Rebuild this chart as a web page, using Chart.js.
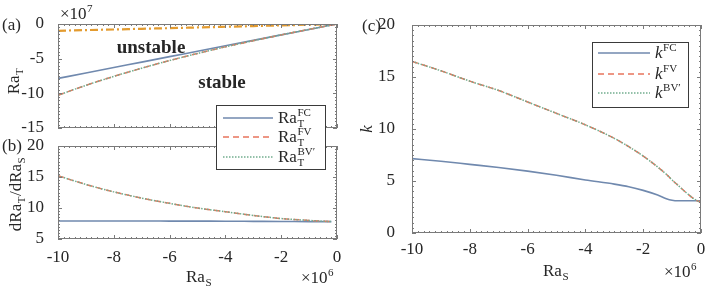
<!DOCTYPE html>
<html>
<head>
<meta charset="utf-8">
<script src="https://cdn.jsdelivr.net/npm/chart.js@4.4.1/dist/chart.umd.min.js"></script>
<style>
  html, body { margin: 0; padding: 0; background: #fff; }
  #fig { position: relative; width: 708px; height: 289px; background: #fff; }
  #fig canvas { position: absolute; left: 0; top: 0; }
</style>
</head>
<body>
<div id="fig">
  <canvas id="pa" width="708" height="289"></canvas>
  <canvas id="pb" width="708" height="289"></canvas>
  <canvas id="pc" width="708" height="289"></canvas>
</div>
<script>
// ---- данные (читаются с картинки) ----
// (a) Ra_T, x10^7, по Ra_S x10^6
const rasA     = [-10, -9, -8, -7, -6, -5, -4, -3, -2, -1, 0];
const raTFC    = [-7.85, -7.07, -6.28, -5.5, -4.71, -3.93, -3.14, -2.36, -1.57, -0.79, 0];
const raTFV    = [-10.27, -8.85, -7.56, -6.37, -5.27, -4.25, -3.3, -2.41, -1.57, -0.77, 0];
const raTBV    = [-10.27, -8.85, -7.56, -6.37, -5.27, -4.25, -3.3, -2.41, -1.57, -0.77, 0];
const raTOther = [-0.98, -0.88, -0.79, -0.69, -0.6, -0.5, -0.4, -0.3, -0.2, -0.1, 0];

// (b) dRa_T/dRa_S
const rasB = [-10, -9, -8, -7, -6, -5, -4, -3, -2, -1, -0.2];
const dFC  = [7.9, 7.9, 7.9, 7.9, 7.89, 7.88, 7.87, 7.85, 7.83, 7.81, 7.8];
const dFV  = [15.2, 13.8, 12.6, 11.6, 10.75, 10.0, 9.4, 8.8, 8.3, 8.0, 7.8];
const dBV  = [15.2, 13.8, 12.6, 11.6, 10.75, 10.0, 9.4, 8.8, 8.3, 8.0, 7.8];

// (c) k
const rasC = [-10, -9, -8, -7, -6, -5, -4, -3, -2.5, -2, -1.5, -1.2, -1, -0.8, -0.5, -0.2, 0];
const kFC  = [7.15, 6.9, 6.6, 6.3, 5.95, 5.55, 5.1, 4.7, 4.45, 4.1, 3.65, 3.3, 3.15, 3.1, 3.1, 3.1, 3.1];
const kFV  = [16.5, 15.6, 14.6, 13.7, 12.6, 11.5, 10.4, 9.1, 8.3, 7.4, 6.35, 5.65, 5.1, 4.6, 3.85, 3.2, 2.95];
const kBV  = [16.5, 15.6, 14.6, 13.7, 12.6, 11.5, 10.4, 9.1, 8.3, 7.4, 6.35, 5.65, 5.1, 4.6, 3.85, 3.2, 2.95];

// оси
const xTicks  = [-10, -8, -6, -4, -2, 0];
const yTicksA = [-15, -10, -5, 0];
const yTicksB = [5, 10, 15, 20];
const yTicksC = [0, 5, 10, 15, 20];

// ---- стиль ----
const SERIF = '"Liberation Serif", "DejaVu Serif", serif';
const FS = 17;
const INK = '#262626';
const AXIS = '#7a7a7a';
const C_FC = '#7089ae';
const C_FV = '#e8745c';
const C_BV = '#72ad8e';
const C_OR = '#e39b2f';

const pts = (xs, ys) => xs.map((x, i) => ({ x, y: ys[i] }));

const lineFC = (data) => ({ data, borderColor: C_FC, borderWidth: 1.6, order: 2 });
const lineFV = (data) => ({ data, borderColor: C_FV, borderWidth: 1.5, borderDash: [6, 4], order: 1 });
const lineBV = (data) => ({ data, borderColor: C_BV, borderWidth: 1.5, borderDash: [1.5, 1.5], order: 0 });

// текст с индексами: части {t}, {sub, sup}
function drawRich(ctx, t) {
  const size = t.size || FS, ss = Math.round(size * 0.66);
  const font = (s, it, b) => `${it ? 'italic ' : ''}${b ? 'bold ' : ''}${s}px ${SERIF}`;
  let w = 0;
  const items = t.parts.map(p => {
    let iw;
    if (p.t != null) {
      ctx.font = font(size, p.it ?? t.it, t.b);
      iw = ctx.measureText(p.t).width;
    } else {
      ctx.font = font(ss, false, t.b);
      iw = Math.max(p.sub ? ctx.measureText(p.sub).width : 0, p.sup ? ctx.measureText(p.sup).width : 0) + 1;
    }
    w += iw;
    return { p, iw };
  });
  ctx.save();
  ctx.translate(t.x, t.y);
  if (t.rot) ctx.rotate(t.rot);
  ctx.fillStyle = t.color || INK;
  ctx.textAlign = 'left';
  ctx.textBaseline = 'alphabetic';
  let cx = t.align === 'center' ? -w / 2 : t.align === 'right' ? -w : 0;
  items.forEach(({ p, iw }) => {
    if (p.t != null) {
      ctx.font = font(size, p.it ?? t.it, t.b);
      ctx.fillText(p.t, cx, 0);
    } else {
      ctx.font = font(ss, false, t.b);
      if (p.sup) ctx.fillText(p.sup, cx + 0.5, -size * 0.4);
      if (p.sub) ctx.fillText(p.sub, cx + 0.5, size * 0.24);
    }
    cx += iw;
  });
  ctx.restore();
}

// рамка, внутренние тики, подписи, легенда
const deco = {
  id: 'deco',
  afterDatasetsDraw(chart, args, o) {
    const { ctx, chartArea: a, scales: { x, y } } = chart;
    ctx.save();
    ctx.strokeStyle = AXIS;
    ctx.lineWidth = 1;
    ctx.beginPath();
    const n = Math.round((x.max - x.min) / o.minorX);
    for (let i = 0; i <= n; i++) {
      const v = x.min + i * o.minorX;
      const major = Math.abs(v / o.majorX - Math.round(v / o.majorX)) < 1e-6;
      const len = major ? 4 : 2;
      const px = Math.round(x.getPixelForValue(v)) + 0.5;
      ctx.moveTo(px, a.bottom); ctx.lineTo(px, a.bottom - len);
      ctx.moveTo(px, a.top); ctx.lineTo(px, a.top + len);
    }
    const m = Math.round((y.max - y.min) / o.minorY);
    for (let i = 0; i <= m; i++) {
      const v = y.min + i * o.minorY;
      const major = Math.abs(v / o.majorY - Math.round(v / o.majorY)) < 1e-6;
      const len = major ? 4 : 2;
      const py = Math.round(y.getPixelForValue(v)) + 0.5;
      ctx.moveTo(a.left, py); ctx.lineTo(a.left + len, py);
      ctx.moveTo(a.right, py); ctx.lineTo(a.right - len, py);
    }
    ctx.stroke();
    ctx.strokeRect(a.left + 0.5, a.top + 0.5, a.width - 1, a.height - 1);
    ctx.restore();
  },
  afterDraw(chart, args, o) {
    const ctx = chart.ctx;
    (o.texts || []).forEach(t => drawRich(ctx, t));
    const L = o.legend;
    if (L) {
      ctx.save();
      ctx.fillStyle = '#fff';
      ctx.fillRect(L.x, L.y, L.w, L.h);
      ctx.strokeStyle = '#3a3a3a';
      ctx.lineWidth = 1;
      ctx.strokeRect(L.x + 0.5, L.y + 0.5, L.w, L.h);
      L.rows.forEach(r => {
        const ds = chart.data.datasets[r.ds];
        ctx.strokeStyle = ds.borderColor;
        ctx.lineWidth = ds.borderWidth;
        ctx.setLineDash(ds.borderDash || []);
        ctx.beginPath();
        ctx.moveTo(L.x0, r.y); ctx.lineTo(L.x1, r.y);
        ctx.stroke();
        ctx.setLineDash([]);
        drawRich(ctx, { x: L.tx, y: r.y + 5, parts: r.parts });
      });
      ctx.restore();
    }
  }
};
Chart.register(deco);

function panel(id, datasets, p) {
  return new Chart(document.getElementById(id), {
    type: 'line',
    data: { datasets },
    options: {
      responsive: false,
      animation: false,
      devicePixelRatio: 1,
      layout: { padding: p.pad },
      elements: { point: { radius: 0 }, line: { cubicInterpolationMode: 'monotone', borderCapStyle: 'butt' } },
      plugins: { legend: { display: false }, tooltip: { enabled: false }, deco: p.deco },
      scales: {
        x: {
          type: 'linear', min: -10, max: 0,
          afterBuildTicks: s => { s.ticks = xTicks.map(v => ({ value: v })); },
          afterFit: s => { s.height = p.xh; },
          grid: { display: false }, border: { display: false },
          ticks: { display: p.xLabels, color: INK, padding: p.xpad, maxRotation: 0, font: { family: SERIF, size: FS }, callback: v => String(v) }
        },
        y: {
          type: 'linear', min: p.ymin, max: p.ymax,
          afterBuildTicks: s => { s.ticks = p.yTicks.map(v => ({ value: v })); },
          afterFit: s => { s.width = p.yw; },
          grid: { display: false }, border: { display: false },
          ticks: { color: INK, padding: p.ypad, font: { family: SERIF, size: FS }, callback: v => String(v) }
        }
      }
    }
  });
}

const RaT = sup => [{ t: 'Ra' }, { sub: 'T', sup }];
const kk = sup => [{ t: 'k', it: true }, { sup }];

// ---- (a) ----
panel('pa', [
  lineFC(pts(rasA, raTFC)),
  lineFV(pts(rasA, raTFV)),
  lineBV(pts(rasA, raTBV)),
  { data: pts(rasA, raTOther), borderColor: C_OR, borderWidth: 2.2, borderDash: [8, 3, 2, 3], order: 3 }
], {
  pad: { left: 0, top: 24, right: 371, bottom: 161 },
  xh: 0, yw: 58, xpad: 0, ypad: 6, xLabels: false,
  ymin: -15, ymax: 0, yTicks: yTicksA,
  deco: {
    minorX: 0.2, majorX: 2, minorY: 0.5, majorY: 5,
    texts: [
      { x: 2, y: 30, parts: [{ t: '(a)' }] },
      { x: 60, y: 19, parts: [{ t: '×10' }, { sup: '7' }] },
      { x: 151, y: 53, parts: [{ t: 'unstable' }], align: 'center', b: true, size: 19 },
      { x: 222, y: 88, parts: [{ t: 'stable' }], align: 'center', b: true, size: 19 },
      { x: 19, y: 81, parts: [{ t: 'Ra' }, { sub: 'T' }], align: 'center', rot: -Math.PI / 2 }
    ]
  }
});

// ---- (b) ----
panel('pb', [
  lineFC(pts(rasB, dFC)),
  lineFV(pts(rasB, dFV)),
  lineBV(pts(rasB, dBV))
], {
  pad: { left: 0, top: 146, right: 371, bottom: 0 },
  xh: 50, yw: 58, xpad: 0, ypad: 6, xLabels: true,
  ymin: 5, ymax: 20, yTicks: yTicksB,
  deco: {
    minorX: 0.2, majorX: 2, minorY: 0.5, majorY: 5,
    texts: [
      { x: 2, y: 151, parts: [{ t: '(b)' }] },
      { x: 21, y: 194, parts: [{ t: 'dRa' }, { sub: 'T' }, { t: '/dRa' }, { sub: 'S' }], align: 'center', rot: -Math.PI / 2 },
      { x: 199, y: 282, parts: [{ t: 'Ra' }, { sub: 'S' }], align: 'center' },
      { x: 301, y: 283, parts: [{ t: '×10' }, { sup: '6' }] }
    ],
    legend: {
      x: 216, y: 105, w: 109, h: 64, x0: 223, x1: 273, tx: 278,
      rows: [
        { ds: 0, y: 118, parts: RaT('FC') },
        { ds: 1, y: 137, parts: RaT('FV') },
        { ds: 2, y: 157, parts: RaT('BV′') }
      ]
    }
  }
});

// ---- (c) ----
panel('pc', [
  lineFC(pts(rasC, kFC)),
  lineFV(pts(rasC, kFV)),
  lineBV(pts(rasC, kBV))
], {
  pad: { left: 0, top: 25, right: 7, bottom: 6 },
  xh: 50, yw: 412, xpad: -2, ypad: 9, xLabels: true,
  ymin: 0, ymax: 20, yTicks: yTicksC,
  deco: {
    minorX: 0.2, majorX: 2, minorY: 0.5, majorY: 5,
    texts: [
      { x: 362, y: 31, parts: [{ t: '(c)' }] },
      { x: 372, y: 129, parts: [{ t: 'k', it: true }], align: 'center', rot: -Math.PI / 2 },
      { x: 556, y: 276, parts: [{ t: 'Ra' }, { sub: 'S' }], align: 'center' },
      { x: 664, y: 277, parts: [{ t: '×10' }, { sup: '6' }] }
    ],
    legend: {
      x: 592, y: 42, w: 96, h: 65, x0: 598, x1: 650, tx: 655,
      rows: [
        { ds: 0, y: 53, parts: kk('FC') },
        { ds: 1, y: 74, parts: kk('FV') },
        { ds: 2, y: 93, parts: kk('BV′') }
      ]
    }
  }
});
</script>
</body>
</html>
